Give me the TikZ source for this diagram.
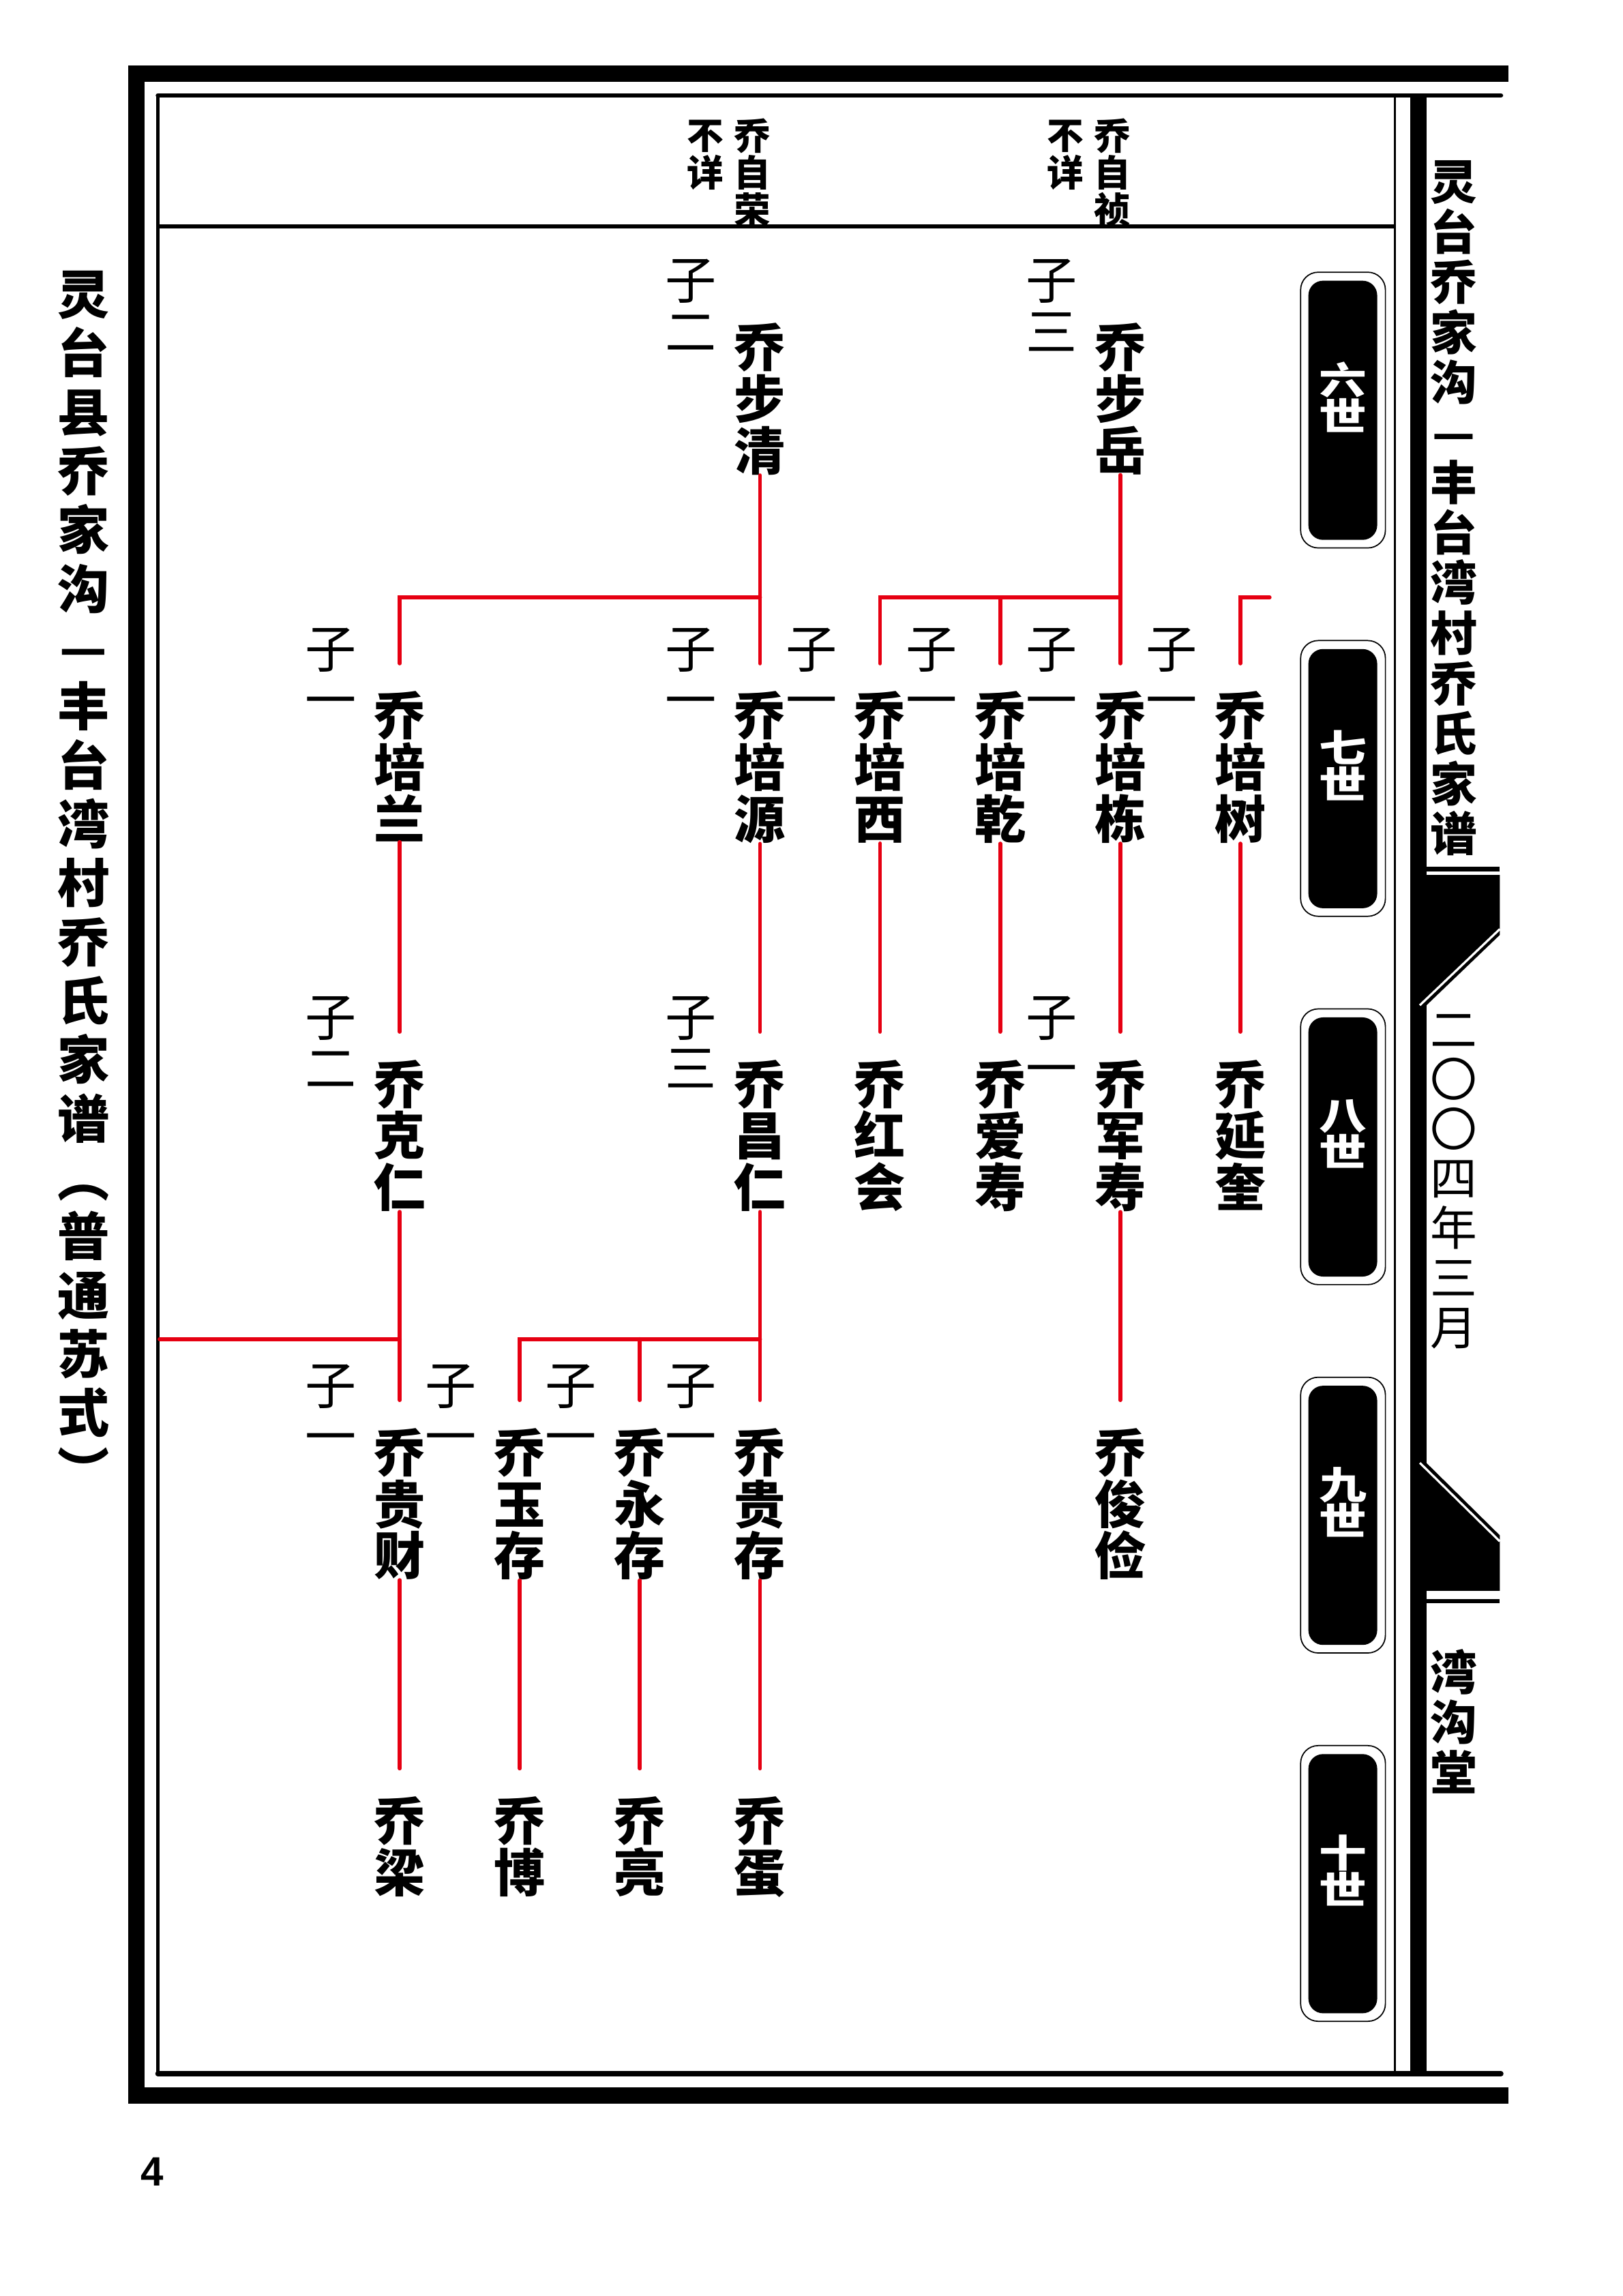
\documentclass[tikz,border=0pt]{standalone}
\usepackage{fontspec}
\setmainfont{Noto Sans CJK SC}
\newfontfamily\genfont{Noto Sans CJK SC}[FakeStretch=1.25]
\newfontfamily\numfont{Liberation Sans}
\definecolor{kinred}{HTML}{E60012}

\tikzset{
  kin/.style={draw=kinred,line width=2.7pt,line cap=round},
  person/.style={anchor=north,inner sep=0pt,align=center,font=\fontsize{35}{35.3}\selectfont\bfseries},
  rank/.style={anchor=north,inner sep=0pt,align=center,font=\fontsize{35}{35}\selectfont},
  elder/.style={anchor=north,inner sep=0pt,align=center,font=\fontsize{25}{25.4}\selectfont\bfseries},
  spine/.style={anchor=north,inner sep=0pt,align=center},
  genbox/.style={fill=black,rounded corners=10pt,minimum width=47pt,minimum height=177pt,inner sep=0pt},
  genrim/.style={draw=black,line width=0.8pt,rounded corners=12pt},
  gentext/.style={text=white,inner sep=0pt,align=center,font=\genfont\bfseries\fontsize{26}{25}\selectfont}
}

\begin{document}
\begin{tikzpicture}[x=1pt,y=-1pt]
  \useasboundingbox (0,0) rectangle (1108,1568);
  \fill[white] (0,0) rectangle (1108,1568);
  % page frame
  \fill (87.7,44.7) rectangle (98.5,1436.5);
  \fill (87.7,44.7) rectangle (1030,56);
  \fill (87.7,1425.7) rectangle (1030,1436.5);
  \draw[line width=3pt,line cap=round] (107.8,65.2) -- (1025,65.2);
  \draw[line width=3.5pt,line cap=round] (107.8,1416.2) -- (1025,1416.2);
  \draw[line width=2.5pt] (107.8,65.2) -- (107.8,1416.2);
  \draw[line width=1.5pt] (952.7,65.2) -- (952.7,1416.2);
  \fill (963,65.2) rectangle (974,1416.2);
  \draw[line width=3pt] (107.8,154.5) -- (952.7,154.5);
  % fish tails
  \draw[line width=3pt] (969.6,593.5) -- (1024.2,593.5);
  \fill (970,597.5) -- (1024.2,597.5) -- (1024.2,638.5) -- (970,690.5) -- cycle;
  \draw[white,line width=1.5pt] (969.6,686.5) -- (1024.2,634.5);
  \fill (970,995) -- (1024.2,1048.5) -- (1024.2,1086.4) -- (970,1086.4) -- cycle;
  \draw[white,line width=1.5pt] (969.6,999) -- (1024.2,1052.6);
  \draw[line width=3pt] (969.6,1093.5) -- (1024.2,1093.5);

  % titles
  \node[spine,font=\fontsize{35.5}{40.2}\selectfont\bfseries] (ltitle) at (57,184.8) {灵\\台\\县\\乔\\家\\沟\\—\\丰\\台\\湾\\村\\乔\\氏\\家\\谱\\︵\\普\\通\\苏\\式\\︶};
  \node[spine,font=\fontsize{32}{34.25}\selectfont\bfseries] (rtitle) at (993,109.5) {灵\\台\\乔\\家\\沟\\—\\丰\\台\\湾\\村\\乔\\氏\\家\\谱};
  \node[spine,font=\fontsize{32}{33.9}\selectfont] (date) at (993,692.6) {二\\〇\\〇\\四\\年\\三\\月};
  \node[spine,font=\fontsize{32}{34.25}\selectfont\bfseries] (hall) at (993,1126) {湾\\沟\\堂};
  \node[inner sep=0pt,font=\numfont\bfseries\fontsize{28}{28}\selectfont] (pageno) at (104,1483) {4};

  % generation tabs
  \foreach \gen [count=\i from 0] in {六,七,八,九,十} {
    \node[genbox] (gen\i) at (917,280.2+251.55*\i) {};
    \draw[genrim] ([shift={(-5.1pt,5.6pt)}]gen\i.north west) rectangle ([shift={(5.4pt,-5.3pt)}]gen\i.south east);
    \node[gentext] (gen\i-t) at ([yshift=9pt]gen\i.center) {\gen\\世};
  }

  % fifth generation (header)
  \node[elder] (zr) at (514,80.7) {乔\\自\\荣};
  \node[elder] (zr-r) at (481.6,82) {不\\详};
  \node[elder] (zz) at (759.7,80.7) {乔\\自\\祯};
  \node[elder] (zz-r) at (727.5,82) {不\\详};

  % sixth generation
  \node[person] (bq) at (519,220.5) {乔\\步\\清};
  \node[person] (by) at (765,220.5) {乔\\步\\岳};
  \node[rank] (bq-r) at ([shift={(-47pt,43.5pt)}]bq.north) {子\\二};
  \node[rank] (by-r) at ([shift={(-47pt,43.5pt)}]by.north) {子\\三};

  % seventh generation
  \node[person] (pl) at (273,472.05) {乔\\培\\兰};
  \node[person] (py) at (519,472.05) {乔\\培\\源};
  \node[person] (px) at (601,472.05) {乔\\培\\西};
  \node[person] (pq) at (683,472.05) {乔\\培\\乾};
  \node[person] (pd) at (765,472.05) {乔\\培\\栋};
  \node[person] (ps) at (847,472.05) {乔\\培\\树};
  \foreach \p in {pl,py,px,pq,pd,ps}
    \node[rank] (\p-r) at ([shift={(-47pt,43.5pt)}]\p.north) {子\\一};

  % eighth generation
  \node[person] (kr) at (273,723.6) {乔\\克\\仁};
  \node[person] (cr) at (519,723.6) {乔\\昌\\仁};
  \node[person] (hh) at (601,723.6) {乔\\红\\会};
  \node[person] (as) at (683,723.6) {乔\\爱\\寿};
  \node[person] (js) at (765,723.6) {乔\\军\\寿};
  \node[person] (yk) at (847,723.6) {乔\\延\\奎};
  \node[rank] (kr-r) at ([shift={(-47pt,43.5pt)}]kr.north) {子\\二};
  \node[rank] (cr-r) at ([shift={(-47pt,43.5pt)}]cr.north) {子\\三};
  \node[rank] (js-r) at ([shift={(-47pt,43.5pt)}]js.north) {子\\一};

  % ninth generation
  \node[person] (gc) at (273,975.15) {乔\\贵\\财};
  \node[person] (yc) at (355,975.15) {乔\\玉\\存};
  \node[person] (ycn) at (437,975.15) {乔\\永\\存};
  \node[person] (gcn) at (519,975.15) {乔\\贵\\存};
  \node[person] (jj) at (765,975.15) {乔\\俊\\俭};
  \foreach \p in {gc,yc,ycn,gcn}
    \node[rank] (\p-r) at ([shift={(-47pt,43.5pt)}]\p.north) {子\\一};

  % tenth generation
  \node[person] (lg) at (273,1226.7) {乔\\梁};
  \node[person] (bo) at (355,1226.7) {乔\\博};
  \node[person] (ll) at (437,1226.7) {乔\\亮};
  \node[person] (dn) at (519,1226.7) {乔\\蛋};

  % lines of descent
  \coordinate (bar7) at (0,408);
  \coordinate (bar9) at (0,914.5);
  \coordinate (prev7) at (867,408);
  \coordinate (next9) at (109,914.5);
  \draw[kin] (bq.south) -- ([yshift=19pt]py.north);
  \draw[kin] (bq.south |- bar7) -| ([yshift=19pt]pl.north);
  \draw[kin] (by.south) -- ([yshift=19pt]pd.north);
  \draw[kin] (by.south |- bar7) -| ([yshift=19pt]px.north);
  \draw[kin] (pq.north |- bar7) -- ([yshift=19pt]pq.north);
  \draw[kin] (prev7) -| ([yshift=19pt]ps.north);
  \foreach \a/\b in {pl/kr,py/cr,px/hh,pq/as,pd/js,ps/yk,js/jj,gc/lg,yc/bo,ycn/ll,gcn/dn}
    \draw[kin] (\a.south) -- ([yshift=19pt]\b.north);
  \draw[kin] (kr.south) -- ([yshift=19pt]gc.north);
  \draw[kin] (kr.south |- bar9) -- (next9);
  \draw[kin] (cr.south) -- ([yshift=19pt]gcn.north);
  \draw[kin] (cr.south |- bar9) -| ([yshift=19pt]yc.north);
  \draw[kin] (ycn.north |- bar9) -- ([yshift=19pt]ycn.north);
\end{tikzpicture}
\end{document}
